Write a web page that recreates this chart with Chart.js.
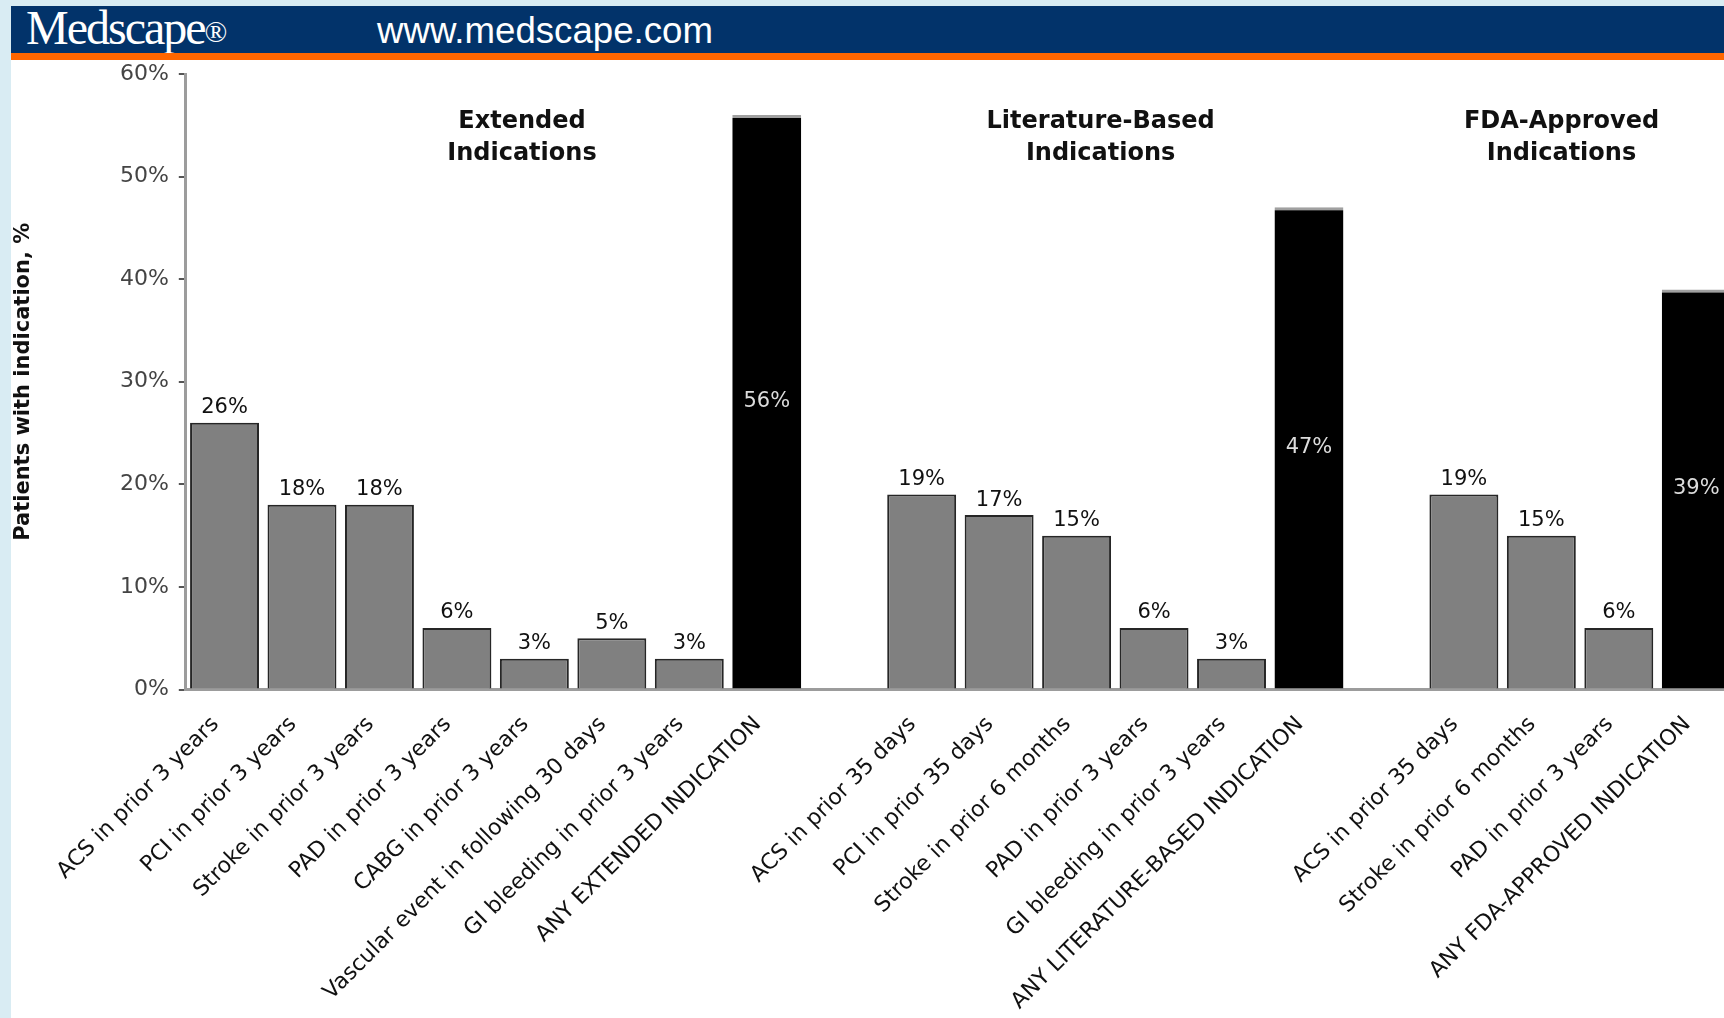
<!DOCTYPE html>
<html>
<head>
<meta charset="utf-8">
<title>Patients with indication</title>
<script src="https://cdn.jsdelivr.net/npm/chart.js@4"></script>
<style>
  html, body {
    margin: 0;
    padding: 0;
    width: 1724px;
    height: 1018px;
    overflow: hidden;
    background: #d9ecf3;
  }
  .header {
    position: absolute;
    left: 11px;
    top: 6px;
    width: 1713px;
    height: 47px;
    background: #02336a;
  }
  .header-line {
    position: absolute;
    left: 11px;
    top: 53px;
    width: 1713px;
    height: 7px;
    background: #ff6600;
  }
  .logo {
    position: absolute;
    left: 15px;
    top: -4px;
    font-family: "Liberation Serif", "DejaVu Serif", serif;
    font-size: 48px;
    letter-spacing: -2px;
    color: #fff;
    line-height: 52px;
  }
  .logo span {
    font-size: 30px;
    letter-spacing: 0;
    vertical-align: 2px;
  }
  .site {
    position: absolute;
    left: 366px;
    top: 3px;
    font-family: "Liberation Sans", Arial, sans-serif;
    font-size: 37px;
    color: #fff;
    line-height: 44px;
    transform: scaleX(0.99);
    transform-origin: left center;
  }
  #chartWrap {
    position: absolute;
    left: 11px;
    top: 60px;
    width: 1740px;
    height: 958px;
    background: #fff;
  }
</style>
</head>
<body>
<div class="header">
  <div class="logo">Medscape<span>®</span></div>
  <div class="site">www.medscape.com</div>
</div>
<div class="header-line"></div>
<div id="chartWrap">
  <canvas id="indicationChart" width="1740" height="958"></canvas>
</div>

<script>
  // ===== Data =====
  const categories = [
    "ACS in prior 3 years",
    "PCI in prior 3 years",
    "Stroke in prior 3 years",
    "PAD in prior 3 years",
    "CABG in prior 3 years",
    "Vascular event in following 30 days",
    "GI bleeding in prior 3 years",
    "ANY EXTENDED INDICATION",
    "",
    "ACS in prior 35 days",
    "PCI in prior 35 days",
    "Stroke in prior 6 months",
    "PAD in prior 3 years",
    "GI bleeding in prior 3 years",
    "ANY LITERATURE-BASED INDICATION",
    "",
    "ACS in prior 35 days",
    "Stroke in prior 6 months",
    "PAD in prior 3 years",
    "ANY FDA-APPROVED INDICATION"
  ];

  const percentValues = [26, 18, 18, 6, 3, 5, 3, 56, null, 19, 17, 15, 6, 3, 47, null, 19, 15, 6, 39];

  const groupTitles = [
    ["Extended", "Indications"],
    ["Literature-Based", "Indications"],
    ["FDA-Approved", "Indications"]
  ];

  const yTickValues = [0, 10, 20, 30, 40, 50, 60];

  // "ANY ..." bars are the summary bars, drawn black
  const isSummary = (i) => categories[i].startsWith("ANY");

  // ===== Plugins =====
  const barValueLabels = {
    id: "barValueLabels",
    afterDatasetsDraw(chart) {
      const ctx = chart.ctx;
      const meta = chart.getDatasetMeta(0);
      ctx.save();
      ctx.font = '21px "DejaVu Sans", Verdana, sans-serif';
      ctx.textAlign = "center";
      ctx.textBaseline = "middle";
      meta.data.forEach((bar, i) => {
        const v = percentValues[i];
        if (v === null) return;
        if (isSummary(i)) {
          ctx.fillStyle = "#dcdcdc";
          ctx.fillText(v + "%", bar.x, (bar.y + bar.base) / 2);
        } else {
          ctx.fillStyle = "#111";
          ctx.fillText(v + "%", bar.x, bar.y - 15);
        }
      });
      ctx.restore();
    }
  };

  const groupHeadings = {
    id: "groupHeadings",
    afterDraw(chart, args, opts) {
      const ctx = chart.ctx;
      const xScale = chart.scales.x;
      const top = chart.chartArea.top;
      ctx.save();
      ctx.font = 'bold 24px "DejaVu Sans", Verdana, sans-serif';
      ctx.fillStyle = "#111";
      ctx.textAlign = "center";
      ctx.textBaseline = "middle";
      groupTitles.forEach((lines, g) => {
        const x = xScale.getPixelForValue(opts.centers[g]);
        lines.forEach((line, k) => {
          ctx.fillText(line, x, top + opts.firstLine + k * opts.lineGap);
        });
      });
      ctx.restore();
    }
  };

  // ===== Chart =====
  Chart.defaults.font.family = '"DejaVu Sans", Verdana, sans-serif';

  const ctx = document.getElementById("indicationChart").getContext("2d");
  new Chart(ctx, {
    type: "bar",
    data: {
      labels: categories,
      datasets: [{
        data: percentValues,
        backgroundColor: (c) => isSummary(c.dataIndex) ? "#000" : "#808080",
        borderColor: (c) => isSummary(c.dataIndex) ? "#a0a0a0" : "#262626",
        borderWidth: (c) => isSummary(c.dataIndex)
          ? { top: 3, left: 0, right: 0, bottom: 0 }
          : 2,
        categoryPercentage: 1,
        barPercentage: 0.89
      }]
    },
    options: {
      responsive: false,
      devicePixelRatio: 1,
      animation: false,
      layout: { padding: { top: 14, right: 16, bottom: 0, left: 0 } },
      plugins: {
        legend: { display: false },
        tooltip: { enabled: false },
        groupHeadings: { centers: [3.84, 11.31, 17.26], firstLine: 48, lineGap: 32 }
      },
      scales: {
        x: {
          grid: { drawOnChartArea: false, drawTicks: false },
          border: { color: "#9c9c9c", width: 3 },
          ticks: {
            autoSkip: false,
            maxRotation: 45,
            minRotation: 45,
            padding: 22,
            labelOffset: -9,
            color: "#111",
            font: { size: 22 }
          },
          afterFit(scale) { scale.height = 328.5; }
        },
        y: {
          min: 0,
          max: 60,
          grid: { drawOnChartArea: false, tickLength: 7, color: "#555", lineWidth: 2 },
          border: { color: "#9c9c9c", width: 3 },
          afterBuildTicks(scale) { scale.ticks = yTickValues.map(v => ({ value: v })); },
          ticks: {
            padding: 10,
            color: "#444",
            font: { size: 22 },
            callback: (v) => v + "%"
          },
          title: {
            display: true,
            text: "Patients with indication, %",
            color: "#111",
            font: { size: 21, weight: "bold" },
            padding: { top: 0, bottom: 0 }
          },
          afterFit(scale) {
            scale.width = 174.8;
            scale.paddingTop = 0;
            scale.paddingBottom = 0;
          }
        }
      }
    },
    plugins: [barValueLabels, groupHeadings]
  });
</script>
</body>
</html>
